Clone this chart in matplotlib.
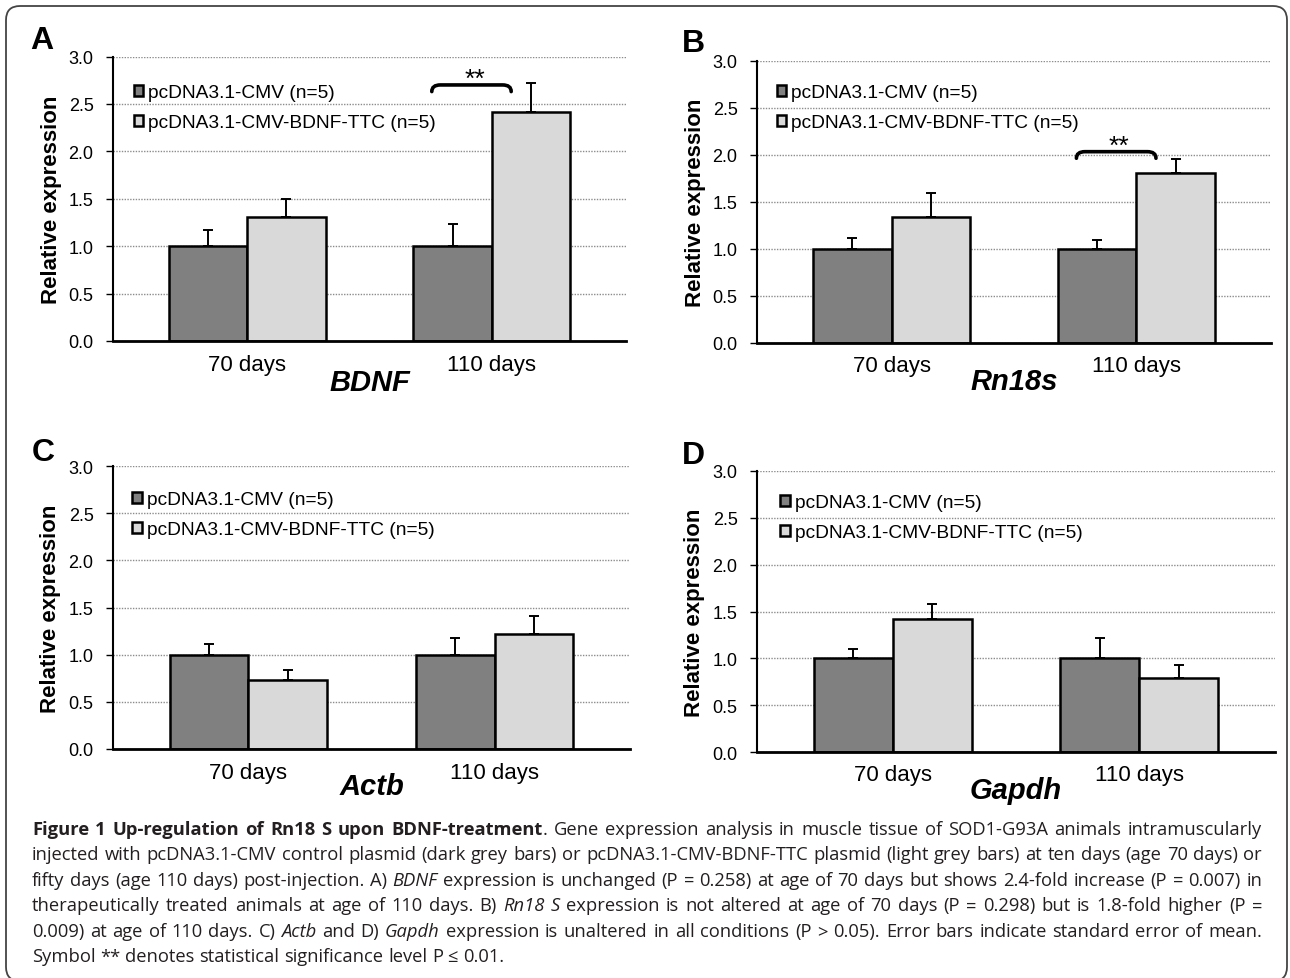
import matplotlib
matplotlib.use("Agg")
import numpy as np
import matplotlib.pyplot as plt
from matplotlib import font_manager
from matplotlib.path import Path
from matplotlib.patches import PathPatch, FancyBboxPatch
from matplotlib.transforms import IdentityTransform, blended_transform_factory


def pick_font(names):
    for n in names:
        try:
            font_manager.findfont(n, fallback_to_default=False)
            return n
        except ValueError:
            pass
    return "DejaVu Sans"


CHART_FONT = pick_font(["Liberation Sans", "Arial"])
CAPTION_FONT = pick_font(["Open Sans", "Noto Sans", "Lato"])
plt.rcParams["font.family"] = [CHART_FONT, "DejaVu Sans"]

# ---- data ----
groups = ["70 days", "110 days"]
series_names = ["pcDNA3.1-CMV (n=5)", "pcDNA3.1-CMV-BDNF-TTC (n=5)"]
genes = ["BDNF", "Rn18s", "Actb", "Gapdh"]
panel_letters = ["A", "B", "C", "D"]

bdnf_ctrl = [1.00, 1.00]
bdnf_ctrl_err = [0.17, 0.23]
bdnf_ttc = [1.31, 2.41]
bdnf_ttc_err = [0.19, 0.31]

rn18s_ctrl = [1.00, 1.00]
rn18s_ctrl_err = [0.11, 0.09]
rn18s_ttc = [1.34, 1.80]
rn18s_ttc_err = [0.25, 0.15]

actb_ctrl = [1.00, 1.00]
actb_ctrl_err = [0.11, 0.18]
actb_ttc = [0.73, 1.22]
actb_ttc_err = [0.11, 0.19]

gapdh_ctrl = [1.00, 1.00]
gapdh_ctrl_err = [0.10, 0.22]
gapdh_ttc = [1.42, 0.79]
gapdh_ttc_err = [0.16, 0.14]

# significance bracket height per panel (None = no bracket)
sig_height = [2.70, 2.03, None, None]

caption_lines = [
    [("Figure 1 Up-regulation of Rn18 S upon BDNF-treatment", "bold"),
     (". Gene expression analysis in muscle tissue of SOD1-G93A animals intramuscularly", "normal")],
    [("injected with pcDNA3.1-CMV control plasmid (dark grey bars) or pcDNA3.1-CMV-BDNF-TTC plasmid "
      "(light grey bars) at ten days (age 70 days) or", "normal")],
    [("fifty days (age 110 days) post-injection. A) ", "normal"), ("BDNF", "italic"),
     (" expression is unchanged (P = 0.258) at age of 70 days but shows 2.4-fold increase (P = 0.007) in", "normal")],
    [("therapeutically treated animals at age of 110 days. B) ", "normal"), ("Rn18 S", "italic"),
     (" expression is not altered at age of 70 days (P = 0.298) but is 1.8-fold higher (P =", "normal")],
    [("0.009) at age of 110 days. C) ", "normal"), ("Actb", "italic"), (" and D) ", "normal"),
     ("Gapdh", "italic"),
     (" expression is unaltered in all conditions (P > 0.05). Error bars indicate standard error of mean.", "normal")],
    [("Symbol ** denotes statistical significance level P \u2264 0.01.", "normal")],
]

ctrl_vals = [bdnf_ctrl, rn18s_ctrl, actb_ctrl, gapdh_ctrl]
ctrl_errs = [bdnf_ctrl_err, rn18s_ctrl_err, actb_ctrl_err, gapdh_ctrl_err]
ttc_vals = [bdnf_ttc, rn18s_ttc, actb_ttc, gapdh_ttc]
ttc_errs = [bdnf_ttc_err, rn18s_ttc_err, actb_ttc_err, gapdh_ttc_err]

# ---- layout (pixels) ----
W, H = 1290, 979
fig = plt.figure(figsize=(W / 100, H / 100), dpi=100)

# left, top, right, bottom of each plot area
panel_px = [(113, 57.5, 626, 342), (757, 61.5, 1271, 343.5),
            (113, 467, 630, 750), (757, 472, 1275, 753)]
letter_px = [(30, 26), (682, 29), (32, 438), (682, 441)]
legend_anchor = [(0.04, 0.903), (0.038, 0.917), (0.037, 0.912), (0.045, 0.918)]
gene_label_y = [-0.145, -0.138, -0.13, -0.135]

dark = "#808080"
light = "#d9d9d9"
w = 0.32
x = np.arange(len(groups))

for i in range(4):
    l, t, r, b = panel_px[i]
    ax = fig.add_axes([l / W, 1 - b / H, (r - l) / W, (b - t) / H])

    ax.bar(x - w / 2, ctrl_vals[i], w, color=dark, edgecolor="black", linewidth=1.8,
           zorder=3, label=series_names[0])
    ax.bar(x + w / 2, ttc_vals[i], w, color=light, edgecolor="black", linewidth=1.8,
           zorder=3, label=series_names[1])
    ax.errorbar(x - w / 2, ctrl_vals[i], yerr=[np.zeros(2), ctrl_errs[i]], fmt="none",
                ecolor="black", elinewidth=1.4, capsize=3.6, capthick=1.4, zorder=4)
    ax.errorbar(x + w / 2, ttc_vals[i], yerr=[np.zeros(2), ttc_errs[i]], fmt="none",
                ecolor="black", elinewidth=1.4, capsize=3.6, capthick=1.4, zorder=4)

    ax.set_xlim(-0.55, 1.55)
    ax.set_ylim(0, 3.0)
    ax.set_yticks(np.arange(0, 3.01, 0.5))
    ax.set_yticklabels(["%.1f" % v for v in np.arange(0, 3.01, 0.5)])
    ax.set_xticks(x)
    ax.set_xticklabels(groups)
    ax.yaxis.grid(True, linestyle=(0, (1, 1)), color="#8c8c8c", linewidth=1.0)
    ax.set_axisbelow(True)
    for s in ["top", "right"]:
        ax.spines[s].set_visible(False)
    ax.spines["left"].set_linewidth(1.5)
    ax.spines["bottom"].set_linewidth(2.0)
    ax.spines["left"].set_zorder(5)
    ax.spines["bottom"].set_zorder(5)
    ax.tick_params(axis="y", length=5, width=1, pad=9, labelsize=13)
    ax.tick_params(axis="x", length=0, pad=9, labelsize=16)

    ax.set_ylabel("Relative expression", fontsize=16, fontweight="bold")
    ax.yaxis.set_label_coords(-0.1, 0.5)

    trans = blended_transform_factory(ax.transData, ax.transAxes)
    ax.text(0.5, gene_label_y[i], genes[i], transform=trans, ha="center", va="center",
            fontsize=21, fontweight="bold", fontstyle="italic")

    ax.legend(loc="upper left", bbox_to_anchor=legend_anchor[i], frameon=False,
              fontsize=13.8, handlelength=0.5, handleheight=0.5, handletextpad=0.25,
              labelspacing=0.68, borderpad=0, borderaxespad=0)

    if sig_height[i] is not None:
        y1 = sig_height[i]
        y0 = y1 - 0.07
        x0, x1, rr = 0.755, 1.08, 0.035
        verts = [(x0, y0), (x0, y1), (x0 + rr, y1), (x1 - rr, y1),
                 (x1, y1), (x1, y0)]
        codes = [Path.MOVETO, Path.CURVE3, Path.CURVE3, Path.LINETO,
                 Path.CURVE3, Path.CURVE3]
        ax.add_patch(PathPatch(Path(verts, codes), fill=False, lw=2.6,
                               edgecolor="black", capstyle="round", zorder=5))
        ax.text(0.93, y1 - 0.01, "**", ha="center", va="baseline", fontsize=19)

    fig.text(letter_px[i][0] / W, 1 - letter_px[i][1] / H, panel_letters[i],
             ha="left", va="top", fontsize=23, fontweight="bold")

# ---- rounded frame ----
frame = FancyBboxPatch((6, -3), 1281, 975, boxstyle="round,pad=0,rounding_size=14",
                       transform=IdentityTransform(), facecolor="none",
                       edgecolor="#444444", linewidth=1.3)
fig.add_artist(frame)

# ---- justified caption ----
renderer = fig.canvas.get_renderer()
styles = {"bold": {"fontweight": "bold"}, "italic": {"fontstyle": "italic"}, "normal": {}}
cap_size = 13.2
cap_family = [CAPTION_FONT, "DejaVu Sans"]
cap_left, cap_right = 32, 1262
baselines = [835, 860.5, 886, 911.5, 937, 962.5]


def text_width(t):
    return t.get_window_extent(renderer).width


probe1 = fig.text(0, 0, "a a", fontsize=cap_size, family=cap_family)
probe2 = fig.text(0, 0, "aa", fontsize=cap_size, family=cap_family)
space_w = text_width(probe1) - text_width(probe2)
probe1.remove()
probe2.remove()

for li, segs in enumerate(caption_lines):
    tokens = []
    space_pending = False
    for txt, st in segs:
        parts = txt.split(" ")
        for j, p in enumerate(parts):
            if j > 0:
                space_pending = True
            if p:
                tokens.append((p, st, bool(tokens) and not space_pending))
                space_pending = False
    clusters = []
    for word, st, glued in tokens:
        t = fig.text(0, H - baselines[li], word, transform=IdentityTransform(),
                     ha="left", va="baseline", fontsize=cap_size, family=cap_family,
                     color="#231f20", **styles[st])
        if glued:
            clusters[-1].append(t)
        else:
            clusters.append([t])
    widths = [[text_width(t) for t in c] for c in clusters]
    total = sum(sum(ws) for ws in widths)
    if li < len(caption_lines) - 1 and len(clusters) > 1:
        gap = max((cap_right - cap_left - total) / (len(clusters) - 1), 0.6 * space_w)
    else:
        gap = space_w
    xpos = cap_left
    for c, ws in zip(clusters, widths):
        for t, wd in zip(c, ws):
            t.set_x(xpos)
            xpos += wd
        xpos += gap

fig.savefig("out.png", dpi=100)
